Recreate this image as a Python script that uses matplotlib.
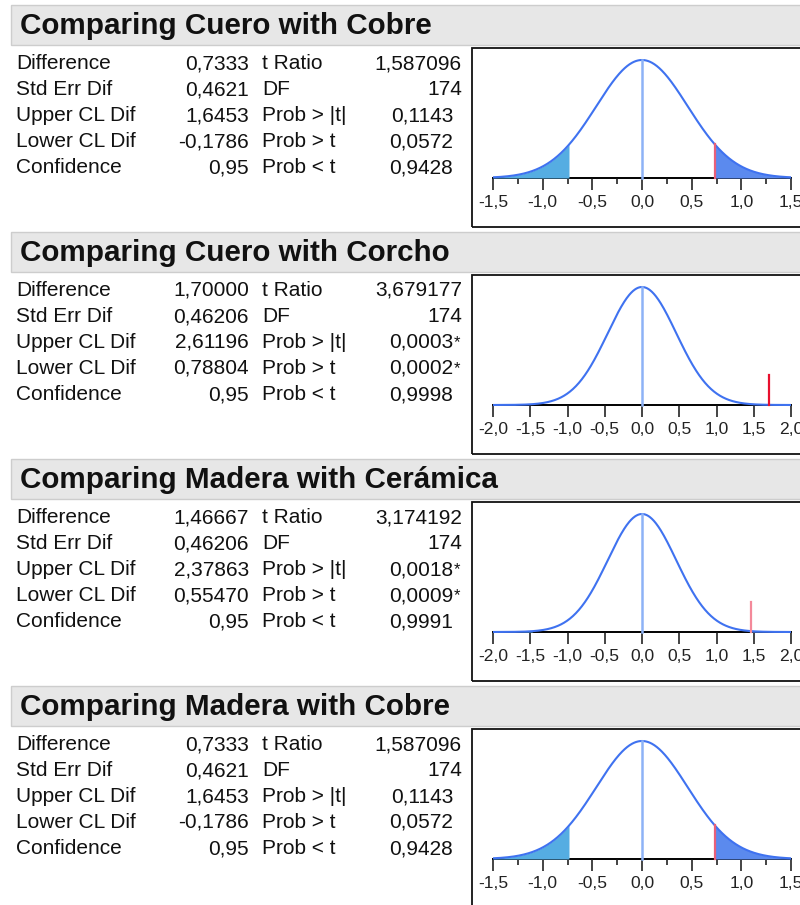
import numpy as np
import matplotlib
matplotlib.use("Agg")
import matplotlib.pyplot as plt
from matplotlib.patches import Rectangle
from matplotlib.ticker import MultipleLocator, FuncFormatter

plt.rcParams['font.family'] = ['Liberation Sans', 'DejaVu Sans']

# ---- data ----
titles = ["Comparing Cuero with Cobre", "Comparing Cuero with Corcho",
          "Comparing Madera with Cerámica", "Comparing Madera with Cobre"]
differences = [0.7333, 1.70000, 1.46667, 0.7333]
std_err_dif = [0.4621, 0.46206, 0.46206, 0.4621]
upper_cl = [1.6453, 2.61196, 2.37863, 1.6453]
lower_cl = [-0.1786, 0.78804, 0.55470, -0.1786]
confidence = [0.95, 0.95, 0.95, 0.95]
decimals = [4, 5, 5, 4]
t_ratio = [1.587096, 3.679177, 3.174192, 1.587096]
dof = [174, 174, 174, 174]
prob_abs_t = [0.1143, 0.0003, 0.0018, 0.1143]
prob_gt_t = [0.0572, 0.0002, 0.0009, 0.0572]
prob_lt_t = [0.9428, 0.9998, 0.9991, 0.9428]
axis_half_range = [1.5, 2.0, 2.0, 1.5]
minor_step = [0.25, None, None, 0.25]

W, H = 800, 905
fig = plt.figure(figsize=(W / 100, H / 100), dpi=100)
fig.patch.set_facecolor("white")

def fx(px):
    return px / W

def fy(py):
    return 1 - py / H

def fmt(v, d):
    return f"{v:.{d}f}".replace('.', ',')

LABEL_FS = 15
HEAD_FS = 21.3
TICK_FS = 12.6
TXT = "#111111"

CURVE = "#3f72f0"
FILL_L = "#55ade2"
FILL_R = "#5b8aee"
CENTER = "#8db2f6"

for i in range(4):
    off = 227 * i
    # header bar
    fig.patches.append(Rectangle((fx(11), fy(45 + off)), fx(810 - 11), 40 / H,
                                 transform=fig.transFigure, facecolor="#e7e7e7",
                                 edgecolor="#cdcdcd", linewidth=1.0))
    fig.text(fx(20), fy(34 + off), titles[i], fontsize=HEAD_FS, fontweight="bold",
             color=TXT, ha="left", va="baseline")

    d = decimals[i]
    left_labels = ["Difference", "Std Err Dif", "Upper CL Dif", "Lower CL Dif", "Confidence"]
    left_vals = [fmt(differences[i], d), fmt(std_err_dif[i], d), fmt(upper_cl[i], d),
                 fmt(lower_cl[i], d), fmt(confidence[i], 2)]
    right_labels = ["t Ratio", "DF", "Prob > |t|", "Prob > t", "Prob < t"]
    baselines = [69, 95, 121, 147, 173]
    for r in range(5):
        yb = fy(baselines[r] + off)
        fig.text(fx(16), yb, left_labels[r], fontsize=LABEL_FS, color=TXT, ha="left", va="baseline")
        fig.text(fx(249), yb, left_vals[r], fontsize=LABEL_FS, color=TXT, ha="right", va="baseline")
        fig.text(fx(262), yb, right_labels[r], fontsize=LABEL_FS, color=TXT, ha="left", va="baseline")
    fig.text(fx(462), fy(baselines[0] + off), fmt(t_ratio[i], 6), fontsize=LABEL_FS,
             color=TXT, ha="right", va="baseline")
    fig.text(fx(462), fy(baselines[1] + off), str(dof[i]), fontsize=LABEL_FS,
             color=TXT, ha="right", va="baseline")
    for r, p in zip([2, 3, 4], [prob_abs_t[i], prob_gt_t[i], prob_lt_t[i]]):
        fig.text(fx(453), fy(baselines[r] + off), fmt(p, 4), fontsize=LABEL_FS,
                 color=TXT, ha="right", va="baseline")
        if r in (2, 3) and p < 0.05:
            fig.text(fx(453.5), fy(baselines[r] + off - 1), "*", fontsize=LABEL_FS * 0.8,
                     color=TXT, ha="left", va="baseline")

    # plot area
    top = 48 + off
    box_h = 179
    left_px, right_px = 472, 810
    ax = fig.add_axes([fx(left_px), fy(top + box_h), fx(right_px - left_px), box_h / H])
    R = axis_half_range[i]
    k = 298 / (2 * R)
    ax.set_xlim(-R - (493 - left_px) / k, R + (right_px - 791) / k)
    ax.set_ylim(-49 / 118, 130 / 118)
    ax.set_facecolor("white")
    for s in ["top", "left", "right"]:
        ax.spines[s].set_visible(False)
    ax.spines["bottom"].set_position(("data", 0))
    ax.spines["bottom"].set_bounds(-R, R)
    ax.spines["bottom"].set_linewidth(1.4)
    ax.spines["bottom"].set_zorder(1)
    ax.set_yticks([])
    ax.xaxis.set_major_locator(MultipleLocator(0.5))
    if minor_step[i]:
        ax.xaxis.set_minor_locator(MultipleLocator(minor_step[i]))
    ax.xaxis.set_major_formatter(FuncFormatter(
        lambda v, p: f"{v:.1f}".replace('.', ',').replace('-0,0', '0,0')))
    ax.tick_params(axis="x", which="major", direction="out", length=8.6, width=1.1,
                   labelsize=TICK_FS, pad=3.4, colors="#111111", labelcolor="#222222")
    ax.tick_params(axis="x", which="minor", direction="out", length=4.3, width=1.1, colors="#111111")
    ax.set_xticks(np.arange(-R, R + 0.01, 0.5))

    se = std_err_dif[i]
    df_ = dof[i]
    x = np.linspace(-R, R, 601)
    y = (1 + (x / se) ** 2 / df_) ** (-(df_ + 1) / 2)
    diff = differences[i]
    ax.fill_between(x, 0, y, where=x <= -diff, color=FILL_L, linewidth=0, zorder=2)
    ax.fill_between(x, 0, y, where=x >= diff, color=FILL_R, linewidth=0, zorder=2)
    ax.plot(x, y, color=CURVE, linewidth=1.5, zorder=3, solid_capstyle="butt")
    ax.plot([0, 0], [0, 1], color=CENTER, linewidth=1.8, zorder=3)
    yd = (1 + (diff / se) ** 2 / df_) ** (-(df_ + 1) / 2)
    red_col = ["#e8607a", "#e8102e", "#f4899a", "#e8607a"][i]
    ax.plot([diff, diff], [0, max(yd, 0.255)], color=red_col, linewidth=1.6, zorder=4)

    ax.add_patch(Rectangle((0, 0), 1, 1, transform=ax.transAxes, fill=False,
                           edgecolor="#111111", linewidth=1.3, clip_on=False, zorder=5))

fig.savefig("out.png", dpi=100, facecolor="white")
